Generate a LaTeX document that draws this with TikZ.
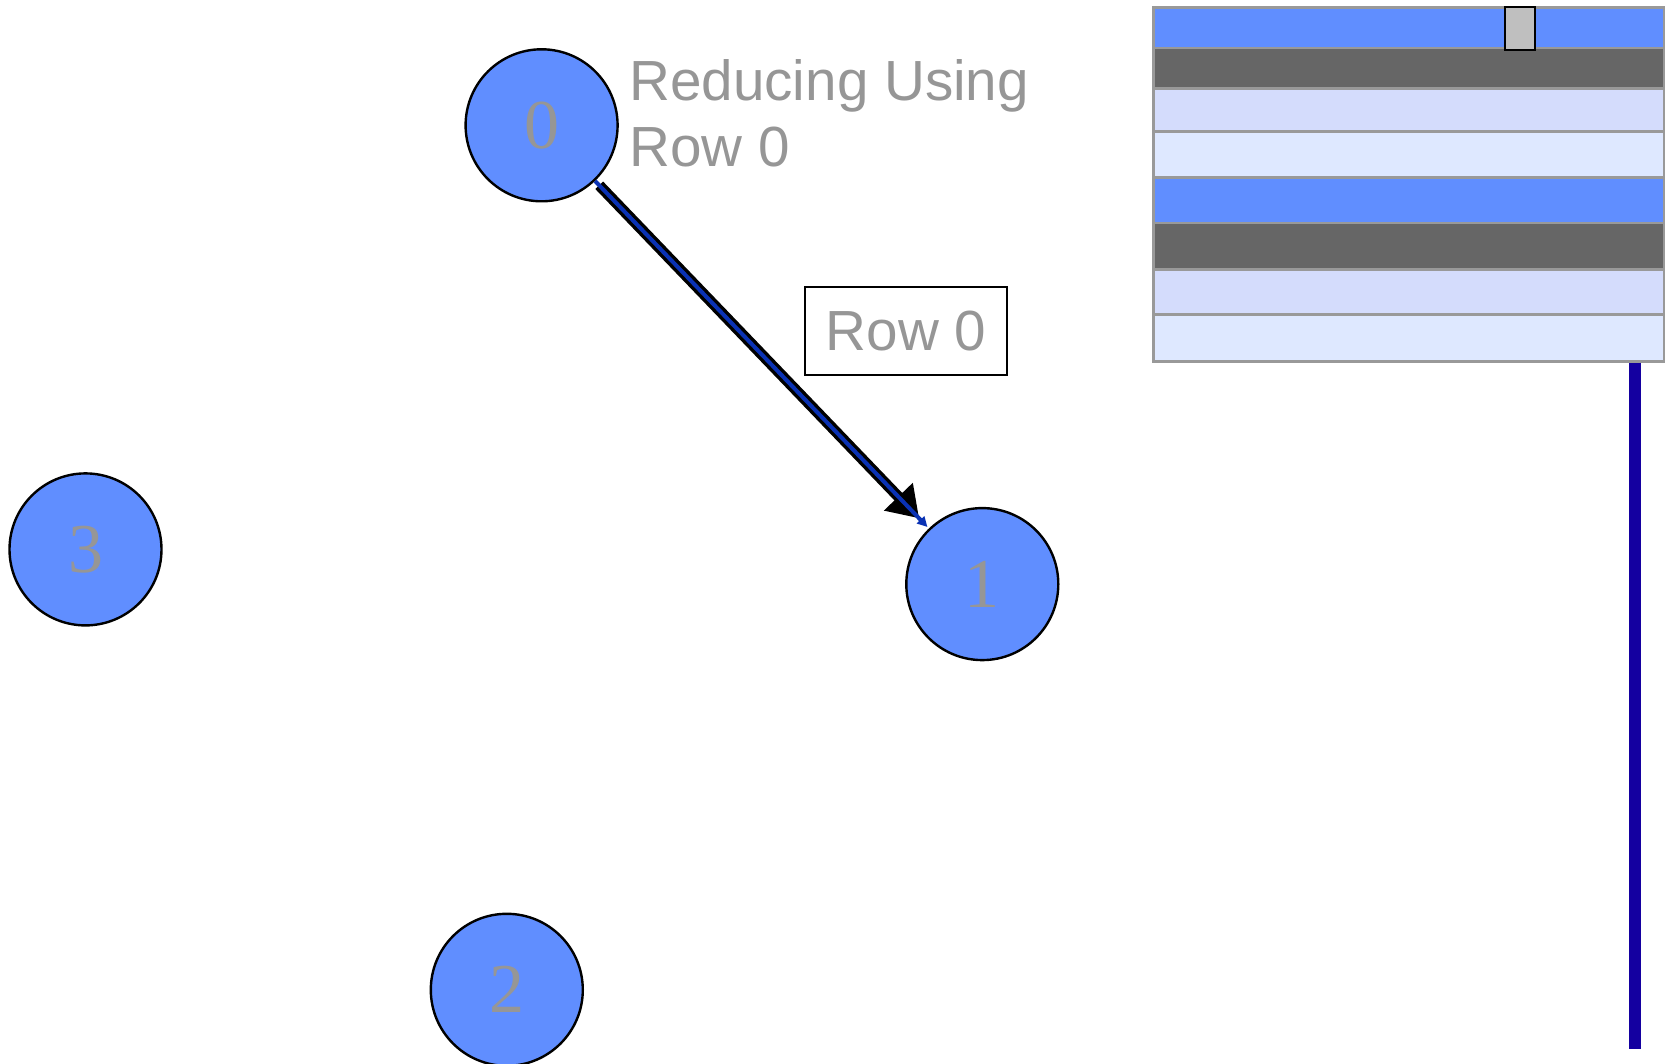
\documentclass[tikz,border=0pt]{standalone}
\usepackage{fontspec}
\setmainfont{Liberation Serif}
\setsansfont{Liberation Sans}
\usetikzlibrary{arrows.meta,calc,positioning}
\definecolor{nodeblue}{RGB}{96,142,255}
\definecolor{darkbar}{RGB}{102,102,102}
\definecolor{lavbar}{RGB}{212,220,252}
\definecolor{palebar}{RGB}{222,232,255}
\definecolor{barborder}{RGB}{153,153,153}
\definecolor{labelgray}{RGB}{150,150,150}
\definecolor{stemblue}{RGB}{20,0,160}
\definecolor{arrowblue}{RGB}{10,50,180}
\definecolor{tabgray}{RGB}{191,191,191}

\begin{document}
\begin{tikzpicture}[x=0.5pt,y=-0.5pt,
 every node/.style={text=labelgray},
 vertex/.style={circle,draw,line width=1.2pt,fill=nodeblue,minimum size=76pt,
 inner sep=0pt,font=\fontsize{35}{35}\selectfont},
 note/.style={font=\sffamily\fontsize{28.3}{33}\selectfont,align=left,inner sep=0pt},
 box/.style={draw=black,line width=0.8pt,font=\sffamily\fontsize{28.3}{33}\selectfont,
 minimum width=101pt,minimum height=44pt,inner sep=0pt},
 bar/.style={draw=barborder,line width=1.3pt,minimum width=255.5pt,
 inner sep=0pt,anchor=north west},
 slot/.style={draw=black,line width=1.2pt,fill=tabgray,minimum width=15pt,
 minimum height=21.5pt,inner sep=0pt}]
\useasboundingbox (0,0) rectangle (1665,1064);
% the four vertices
\node[vertex] (n0) at (541.6,125.3) {0};
\node[vertex] (n1) at (982.3,584.1) {1};
\node[vertex] (n2) at (506.8,989.8) {2};
\node[vertex] (n3) at (85.5,549.4) {3};
\node[note,anchor=base west] (hdr) at (629,167) {Reducing Using\\Row 0};
\node[box] (rowbox) at (906,331) {Row 0};
% pivot edge
\draw[black,line width=5.4pt,shorten <=3pt,shorten >=7pt,
 -{Triangle[length=15pt,width=19pt]}] (n0) -- (n1);
\draw[arrowblue,line width=2pt,shorten >=1pt,
 -{Triangle[length=5pt,width=5pt]}] (n0) -- (n1);
% matrix rows: fill / top / height
\foreach \c/\y/\h [count=\i] in {nodeblue/6.5/40.3,darkbar/46.8/40.6,lavbar/87.4/43,
 palebar/130.4/45.9,nodeblue/176.3/45.4,darkbar/221.7/46.8,lavbar/268.5/44.6,palebar/313.1/46.9}
 \node[bar,fill=\c,minimum height=\h*0.5pt] (b\i) at (1152,\y) {};
\node[slot] (tab) at (1520,28.5) {};
\coordinate (stemend) at (1635,1049);
\draw[stemblue,line width=6pt] (b8.south -| stemend) -- (stemend);
\end{tikzpicture}
\end{document}
